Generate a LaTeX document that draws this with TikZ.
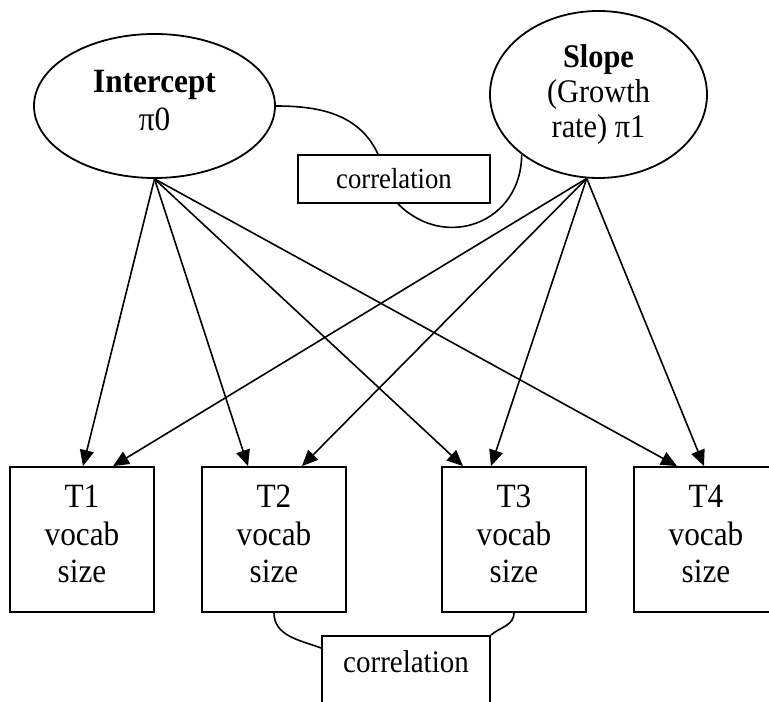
\documentclass[tikz,border=0pt]{standalone}
\usepackage{fontspec}
\setmainfont{Liberation Serif}[FakeStretch=0.92]
\usetikzlibrary{shapes.geometric,arrows.meta}

\begin{document}
\begin{tikzpicture}[x=1pt,y=1pt,
    font=\fontsize{34}{37.5}\selectfont,
    latent/.style={draw, ellipse, line width=1.8pt, inner sep=0pt, align=center},
    obs/.style={draw, rectangle, line width=1.8pt, minimum width=144pt, minimum height=145pt, inner sep=0pt, align=center},
    corrbox/.style={draw, rectangle, line width=1.8pt, inner sep=0pt},
    link/.style={line width=1.6pt, -{Triangle[length=16pt,width=14pt]}},
    cov/.style={line width=1.6pt}]
\useasboundingbox (0,0) rectangle (769,702);
\clip (0,0) rectangle (769,702);

% growth factors
    \node[latent, minimum width=241pt, minimum height=144pt] (icpt) at (154.5,596) {\textbf{Intercept}\\π0\strut};
    \node[latent, minimum width=217pt, minimum height=167pt, font=\fontsize{33}{35}\selectfont] (slope) at (598.5,607.5) {\textbf{Slope}\\(Growth\\rate) π1};
    \node[corrbox, minimum width=192pt, minimum height=48pt, font=\fontsize{29}{34}\selectfont] (corrA) at (394,523) {correlation};

% measurements
    \node[obs] (t1) at (82,162.5) {T1\\vocab\\size\strut};
    \node[obs] (t2) at (274,162.5) {T2\\vocab\\size\strut};
    \node[obs] (t3) at (514,162.5) {T3\\vocab\\size\strut};
    \node[obs] (t4) at (706,162.5) {T4\\vocab\\size\strut};
    \node[corrbox, minimum width=168pt, text height=22pt, text depth=60pt, inner ysep=15pt, anchor=north, font=\fontsize{31.5}{36}\selectfont] (corrB) at (406,67) {correlation};

% loadings
    \coordinate (sfoot) at (slope.262);
     \draw[link] (icpt.south) -- ([xshift=1pt]t1.north);
     \draw[link] (icpt.south) -- ([xshift=-26pt]t2.north);
     \draw[link] (icpt.south) -- ([xshift=-51pt]t3.north);
     \draw[link] (icpt.south) -- ([xshift=-29pt]t4.north);
     \draw[link] (sfoot) -- ([xshift=31pt]t1.north);
     \draw[link] (sfoot) -- ([xshift=28pt]t2.north);
     \draw[link] (sfoot) -- ([xshift=-23pt]t3.north);
     \draw[link] (sfoot) -- ([xshift=-2pt]t4.north);

% correlations
     \draw[cov] (icpt.east) to[out=0, in=115] ([xshift=-16pt]corrA.north);
     \draw[cov] (slope.218) to[out=-90, in=-45, looseness=1.3] ([xshift=4pt]corrA.south);
     \draw[cov] (t2.south) to[out=-90, in=160] ([yshift=-13pt]corrB.north west);
     \draw[cov] (t3.south) to[out=-90, in=40] (corrB.north east);
\end{tikzpicture}
\end{document}
